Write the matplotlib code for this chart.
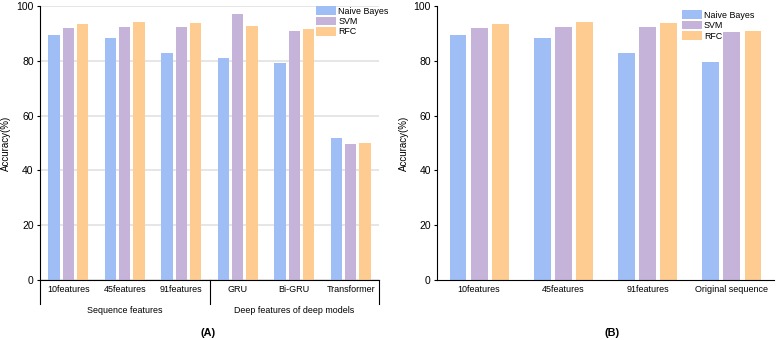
import numpy as np
import matplotlib.pyplot as plt
import matplotlib.transforms as mtransforms

plt.rcParams['font.family'] = ['Liberation Sans', 'DejaVu Sans']

models = ["Naive Bayes", "SVM", "RFC"]
colors = ["#9FBEF5", "#C6B3D9", "#FECB91"]

# panel A
cats_a = ["10features", "45features", "91features", "GRU", "Bi-GRU", "Transformer"]
nb_a = [89.4, 88.4, 82.9, 80.9, 79.1, 51.9]
svm_a = [92.0, 92.5, 92.5, 97.1, 91.0, 49.7]
rfc_a = [93.7, 94.1, 93.9, 92.9, 91.8, 50.0]
groups_a = ["Sequence features", "Deep features of deep models"]

# panel B
cats_b = ["10features", "45features", "91features", "Original sequence"]
nb_b = [89.5, 88.4, 82.9, 79.7]
svm_b = [92.0, 92.5, 92.5, 90.7]
rfc_b = [93.7, 94.1, 93.9, 90.9]

fig = plt.figure(figsize=(7.78, 3.40), dpi=100)
W, H = 778, 340
axA = fig.add_axes([40 / W, 1 - 279.5 / H, 339 / W, 273.2 / H])
axB = fig.add_axes([437 / W, 1 - 279.5 / H, 337 / W, 273.2 / H])

bw = 0.2
step = 0.25


def draw(ax, cats, series, grid):
    x = np.arange(len(cats))
    for i, (vals, name, c) in enumerate(zip(series, models, colors)):
        ax.bar(x + (i - 1) * step, vals, width=bw, color=c, label=name, zorder=2)
    ax.set_xlim(-0.5, len(cats) - 0.5)
    ax.set_ylim(0, 100)
    ax.set_yticks([0, 20, 40, 60, 80, 100])
    ax.set_xticks(x)
    ax.set_xticklabels(cats, fontsize=6.5)
    ax.tick_params(axis='x', length=0, pad=4)
    ax.tick_params(axis='y', length=2.5, width=0.8, labelsize=7.5, pad=2)
    for s in ["top", "right"]:
        ax.spines[s].set_visible(False)
    ax.spines["left"].set_linewidth(0.8)
    ax.spines["bottom"].set_linewidth(0.8)
    if grid:
        ax.yaxis.grid(True, color="#E2E2E2", linewidth=1.2, zorder=0)
        ax.set_axisbelow(True)
    ax.set_ylabel("Accuracy(%)", fontsize=7)


draw(axA, cats_a, [nb_a, svm_a, rfc_a], True)
draw(axB, cats_b, [nb_b, svm_b, rfc_b], False)
# ylabel anchor is the right edge of the rotated text
axA.yaxis.set_label_coords(-0.085, 0.5)
axB.yaxis.set_label_coords(-0.082, 0.5)

leg_kw = dict(loc="upper left", frameon=False, fontsize=6.4, handlelength=2.25,
              handleheight=1.12, labelspacing=0.12, handletextpad=0.25, borderpad=0,
              borderaxespad=0)
axA.legend(bbox_to_anchor=(0.814, 1.0), **leg_kw)
axB.legend(bbox_to_anchor=(0.726, 0.985), **leg_kw)

# group brackets under panel A
trans = mtransforms.blended_transform_factory(axA.transData, axA.transAxes)
for xv in [-0.5, 2.5, 5.5]:
    axA.plot([xv, xv], [0, -0.088], color="black", linewidth=0.8,
             transform=trans, clip_on=False)
axA.text(1.0, -0.115, groups_a[0], transform=trans, ha="center", va="center", fontsize=6.4)
axA.text(4.0, -0.115, groups_a[1], transform=trans, ha="center", va="center", fontsize=6.4)

fig.text(208 / W, 1 - 333 / H, "(A)", ha="center", va="center", fontsize=7.8, fontweight="bold")
fig.text(612 / W, 1 - 333 / H, "(B)", ha="center", va="center", fontsize=7.8, fontweight="bold")

fig.savefig("out.png", dpi=100)
